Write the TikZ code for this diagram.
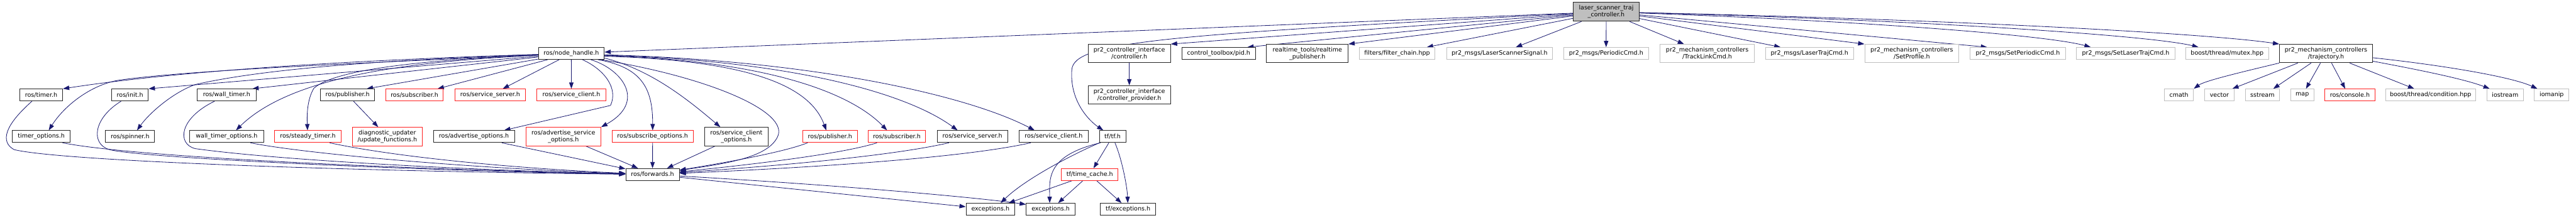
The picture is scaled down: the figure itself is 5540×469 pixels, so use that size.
\documentclass[tikz,border=0pt]{standalone}
\usepackage{fontspec}
\setmainfont{DejaVu Sans}
\usetikzlibrary{arrows.meta,calc}
\definecolor{edgec}{HTML}{191970}
\definecolor{grayb}{HTML}{BFBFBF}
\definecolor{redb}{HTML}{FF2020}
\pgfdeclarelayer{background}
\pgfsetlayers{background,main}
\begin{document}
\begin{tikzpicture}[x=1pt,y=-1pt,
  base/.style={line width=1.3pt, inner sep=0pt, font=\fontsize{12.9}{15}\selectfont, align=center, minimum height=25.6pt, fill=white},
  blk/.style={base, draw=black!85},
  rbox/.style={base, draw=redb},
  gbox/.style={base, draw=grayb},
  mainbox/.style={base, draw=black!85, fill=grayb},
  dbl/.style={minimum height=39.6pt},
  e/.style={draw=edgec, line width=1.1pt, -{Triangle[length=13.5pt,width=9.5pt]}}
]
\useasboundingbox (0,0) rectangle (5540,469);
% ---------- row 0
\node[mainbox, minimum width=141.5pt, minimum height=40.5pt] (M) at (3454.3,25.5) {laser\_scanner\_traj\\\_controller.h};
% ---------- row 1
\node[blk, minimum width=141.5pt] (nh) at (1228.6,115) {ros/node\_handle.h};
\node[blk, dbl, minimum width=177.3pt] (ctrl) at (2428.7,115.3) {pr2\_controller\_interface\\/controller.h};
\node[blk, minimum width=158pt] (pid) at (2620.9,115) {control\_toolbox/pid.h};
\node[blk, dbl, minimum width=175.3pt] (rtp) at (2811.6,115.3) {realtime\_tools/realtime\\\_publisher.h};
\node[gbox, minimum width=162.5pt] (fc) at (3004.7,115) {filters/filter\_chain.hpp};
\node[gbox, minimum width=228.1pt] (lss) at (3225,115) {pr2\_msgs/LaserScannerSignal.h};
\node[gbox, minimum width=182.8pt] (pc) at (3454.1,115) {pr2\_msgs/PeriodicCmd.h};
\node[gbox, dbl, minimum width=202.3pt] (tlc) at (3671.6,115.3) {pr2\_mechanism\_controllers\\/TrackLinkCmd.h};
\node[gbox, minimum width=189.3pt] (ltc) at (3891.5,115) {pr2\_msgs/LaserTrajCmd.h};
\node[gbox, dbl, minimum width=202.5pt] (sprof) at (4111.5,115.3) {pr2\_mechanism\_controllers\\/SetProfile.h};
\node[gbox, minimum width=204.5pt] (spc) at (4339.5,115) {pr2\_msgs/SetPeriodicCmd.h};
\node[gbox, minimum width=211.1pt] (slt) at (4571.5,115) {pr2\_msgs/SetLaserTrajCmd.h};
\node[gbox, minimum width=178pt] (mtx) at (4789.7,115) {boost/thread/mutex.hpp};
\node[blk, dbl, minimum width=200pt] (traj) at (5002.3,115.3) {pr2\_mechanism\_controllers\\/trajectory.h};
% ---------- row 2
\node[blk, minimum width=92.4pt] (timer) at (88.6,204.5) {ros/timer.h};
\node[blk, minimum width=79pt] (init) at (279.5,204.5) {ros/init.h};
\node[blk, minimum width=127pt] (wt) at (487.5,204.5) {ros/wall\_timer.h};
\node[blk, minimum width=117pt] (pub1) at (747.5,204.5) {ros/publisher.h};
\node[rbox, minimum width=124.1pt] (sub1) at (891.4,204.5) {ros/subscriber.h};
\node[rbox, minimum width=152.6pt] (ss1) at (1054.3,204.5) {ros/service\_server.h};
\node[rbox, minimum width=148.3pt] (sc1) at (1228.8,204.5) {ros/service\_client.h};
\node[blk, dbl, minimum width=177.3pt] (cprov) at (2428.7,204.3) {pr2\_controller\_interface\\/controller\_provider.h};
\node[gbox, minimum width=62.5pt] (cmath) at (4686,204.5) {cmath};
\node[gbox, minimum width=62.5pt] (vec) at (4773,204.5) {vector};
\node[gbox, minimum width=73.5pt] (sst) at (4865.5,204.5) {sstream};
\node[gbox, minimum width=50.4pt] (map) at (4951.2,204.5) {map};
\node[rbox, minimum width=107.2pt] (con) at (5053.6,204.5) {ros/console.h};
\node[gbox, minimum width=193.4pt] (cond) at (5227.1,204.5) {boost/thread/condition.hpp};
\node[gbox, minimum width=79.4pt] (ios) at (5387.6,204.5) {iostream};
\node[gbox, minimum width=74.1pt] (iom) at (5487.6,204.5) {iomanip};
% ---------- row 3
\node[blk, minimum width=124.1pt] (to) at (88.8,294) {timer\_options.h};
\node[blk, minimum width=105.8pt] (spn) at (279.7,294) {ros/spinner.h};
\node[blk, minimum width=159pt] (wto) at (487.5,294) {wall\_timer\_options.h};
\node[rbox, minimum width=142.7pt] (st) at (662,294) {ros/steady\_timer.h};
\node[rbox, dbl, minimum width=150.9pt] (uf) at (832.9,294) {diagnostic\_updater\\/update\_functions.h};
\node[blk, minimum width=174.5pt] (ao) at (1019.3,294) {ros/advertise\_options.h};
\node[rbox, dbl, minimum width=161.2pt] (aso) at (1211.6,294) {ros/advertise\_service\\\_options.h};
\node[rbox, minimum width=174.4pt] (sbo) at (1403.5,294) {ros/subscribe\_options.h};
\node[blk, dbl, minimum width=135.7pt] (sco) at (1583.6,294) {ros/service\_client\\\_options.h};
\node[rbox, minimum width=117pt] (pub2) at (1785,294) {ros/publisher.h};
\node[rbox, minimum width=124.1pt] (sub2) at (1928.7,294) {ros/subscriber.h};
\node[blk, minimum width=152pt] (ss2) at (2091.3,294) {ros/service\_server.h};
\node[blk, minimum width=147.7pt] (sc2) at (2266,294) {ros/service\_client.h};
\node[blk, minimum width=57.1pt] (tf) at (2392.8,294) {tf/tf.h};
% ---------- row 4
\node[blk, minimum width=115pt] (fw) at (1403.3,375.7) {ros/forwards.h};
\node[rbox, minimum width=122.3pt] (tc) at (2343.6,375.7) {tf/time\_cache.h};
% ---------- row 5
\node[blk, minimum width=104.9pt] (ex1) at (2130,450.5) {exceptions.h};
\node[blk, minimum width=105pt] (ex2) at (2259.5,450.5) {exceptions.h};
\node[blk, minimum width=118.3pt] (tfe) at (2426,450.5) {tf/exceptions.h};

\begin{pgfonlayer}{background}
\fill[white] (0,0) rectangle (5540,469);
% main node
\draw[e] (M) -- (nh);
\draw[e] (M) .. controls (2500,75) and (2310,90) .. (2305,150) .. controls (2300,220) and (2345,262) .. (tf);
\draw[e] (M) -- (ctrl.north east);
\draw[e] (M) -- ($(pid.north east)+(-18,0)$);
\draw[e] (M) -- (rtp.north east);
\draw[e] (M) -- ($(fc.north east)+(-18,0)$);
\draw[e] (M) -- ($(lss.north)+(35,0)$);
\draw[e] (M) -- (pc);
\draw[e] (M) -- ($(tlc.north)+(-50,0)$);
\draw[e] (M) -- ($(ltc.north west)+(33,0)$);
\draw[e] (M) -- (sprof.north west);
\draw[e] (M) -- ($(spc.north west)+(37,0)$);
\draw[e] (M) .. controls (4000,45) and (4400,75) .. ($(slt.north west)+(31,0)$);
\draw[e] (M) .. controls (4100,42) and (4620,75) .. ($(mtx.north west)+(28,0)$);
\draw[e] (M) .. controls (4200,42) and (4750,72) .. (traj.north west);
% node_handle
\draw[e] (nh) .. controls (800,128) and (400,150) .. (timer.north east);
\draw[e] (nh) .. controls (800,135) and (420,150) .. (260,172) .. controls (200,180) and (140,225) .. ($(to.north)+(16,0)$);
\draw[e] (nh) -- (init.north east);
\draw[e] (nh) .. controls (800,130) and (560,150) .. (420,182) .. controls (370,200) and (320,245) .. ($(spn.north)+(15,0)$);
\draw[e] (nh) -- ($(wt.north east)+(-9,0)$);
\draw[e] (nh) .. controls (950,130) and (640,150) .. ($(wto.north)+(20,0)$);
\draw[e] (nh) .. controls (900,130) and (720,150) .. (675,190) .. controls (660,215) and (660,250) .. (st);
\draw[e] (nh) -- ($(pub1.north east)+(-18,0)$);
\draw[e] (nh) -- ($(sub1.north east)+(-13,0)$);
\draw[e] (nh) -- ($(ss1.north east)+(-50,0)$);
\draw[e] (nh) -- (sc1);
\draw[e] ($(nh.south)+(24,0)$) .. controls (1300,150) and (1330,190) .. (1313,227) -- ($(ao.north east)+(-23,0)$);
\draw[e] ($(nh.south)+(42,0)$) .. controls (1340,150) and (1390,220) .. (aso.north east);
\draw[e] ($(nh.south east)+(-14,0)$) .. controls (1380,145) and (1404,190) .. (sbo);
\draw[e] ($(nh.east)+(0,10)$) .. controls (1400,150) and (1480,215) .. ($(sco.north west)+(34,0)$);
\draw[e] ($(nh.south east)+(-8,0)$) .. controls (1520,165) and (1700,240) .. (1672,295) .. controls (1650,340) and (1560,352) .. (fw);
\draw[e] ($(nh.east)+(0,6)$) .. controls (1600,130) and (1740,180) .. ($(pub2.north)+(-8,0)$);
\draw[e] ($(nh.east)+(0,5)$) .. controls (1650,130) and (1830,200) .. ($(sub2.north)+(-21,0)$);
\draw[e] ($(nh.east)+(0,4)$) .. controls (1700,130) and (1950,200) .. ($(ss2.north)+(-32,0)$);
\draw[e] ($(nh.east)+(0,3)$) .. controls (1750,130) and (2080,205) .. ($(sc2.north)+(-41,0)$);
% into forwards
\draw[e] ($(timer.south west)+(27,0)$) .. controls (10,270) and (0,305) .. (30,322) .. controls (120,345) and (700,368) .. (fw);
\draw[e] ($(to.south east)+(-17,0)$) .. controls (300,340) and (900,365) .. (fw);
\draw[e] ($(init.south west)+(21,0)$) .. controls (200,255) and (195,310) .. (235,322) .. controls (300,340) and (900,368) .. (fw);
\draw[e] ($(wt.south west)+(38,0)$) .. controls (385,255) and (380,310) .. (420,320) .. controls (600,345) and (1000,366) .. (fw);
\draw[e] ($(wto.south east)+(-29,0)$) .. controls (650,330) and (1000,362) .. (fw);
\draw[e] ($(st.south east)+(-25,0)$) .. controls (850,338) and (1100,362) .. (fw);
\draw[e] ($(ao.south east)+(-28,0)$) -- (fw);
\draw[e] ($(aso.south)+(48,0)$) -- ($(fw.north west)+(27,0)$);
\draw[e] (sbo) -- (fw);
\draw[e] ($(sco.south west)+(23,0)$) -- ($(fw.north east)+(-27,0)$);
\draw[e] ($(pub2.south west)+(11,0)$) .. controls (1680,330) and (1530,355) .. (fw);
\draw[e] ($(sub2.south west)+(20,0)$) .. controls (1800,335) and (1560,360) .. (fw);
\draw[e] ($(ss2.south west)+(26,0)$) .. controls (1900,340) and (1600,362) .. (fw);
\draw[e] ($(sc2.south west)+(25,0)$) .. controls (2050,345) and (1650,365) .. (fw);
% forwards out
\draw[e] (fw) -- (ex1);
\draw[e] (fw) .. controls (1800,398) and (2100,425) .. ($(ex2.north west)+(0,3)$);
% tf
\draw[e] ($(tf.south west)+(1,0)$) .. controls (2290,340) and (2200,390) .. ($(ex1.north)+(22,0)$);
\draw[e] ($(tf.south west)+(3,0)$) .. controls (2250,335) and (2257,385) .. ($(ex2.north)+(-2,0)$);
\draw[e] (tf) -- (tc);
\draw[e] ($(tf.south)+(5,0)$) .. controls (2412,340) and (2424,400) .. (tfe);
% time_cache
\draw[e] (tc) -- ($(ex1.north east)+(-14,0)$);
\draw[e] (tc) -- ($(ex2.north east)+(-37,0)$);
\draw[e] (tc) -- ($(tfe.north)+(-14,0)$);
% misc
\draw[e] (ctrl) -- (cprov);
\draw[e] (pub1) -- (uf);
% trajectory
\draw[e] (traj.south west) .. controls (4800,160) and (4740,175) .. (cmath.north east);
\draw[e] ($(traj.south west)+(40,0)$) -- ($(vec.north east)+(-4,0)$);
\draw[e] ($(traj.south)+(-32,0)$) -- ($(sst.north east)+(-14,0)$);
\draw[e] ($(traj.south)+(-12,0)$) -- ($(map.north)+(8,0)$);
\draw[e] ($(traj.south)+(12,0)$) -- ($(con.north)+(-10,0)$);
\draw[e] ($(traj.south)+(51,0)$) -- ($(cond.north)+(-35,0)$);
\draw[e] ($(traj.south east)+(0,-4)$) .. controls (5200,150) and (5300,170) .. ($(ios.north west)+(7,0)$);
\draw[e] ($(traj.east)+(0,9)$) .. controls (5250,140) and (5400,165) .. ($(iom.north west)+(7,0)$);
\end{pgfonlayer}
\end{tikzpicture}
\end{document}
